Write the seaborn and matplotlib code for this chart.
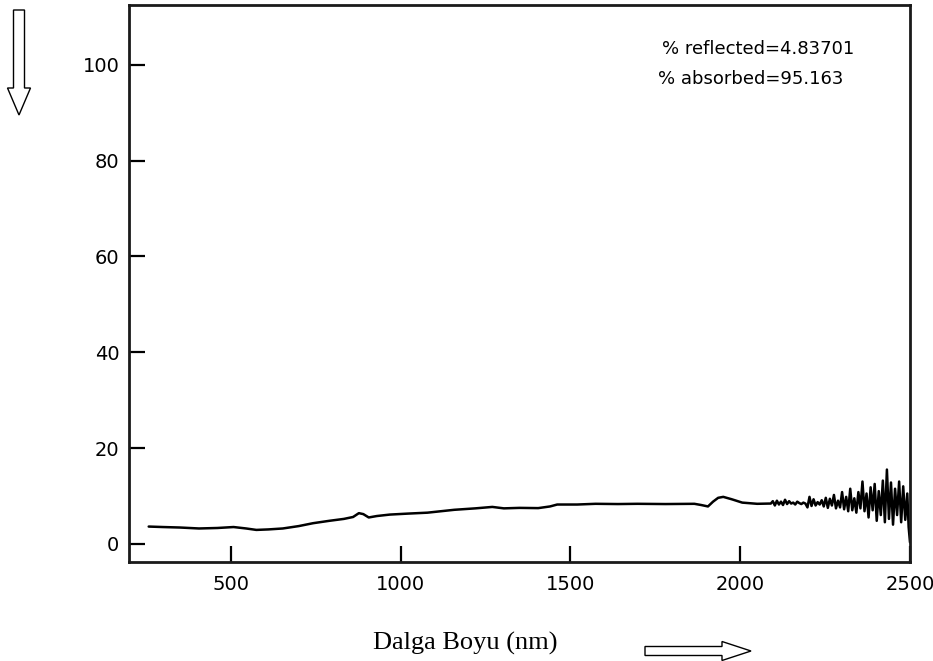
import matplotlib
matplotlib.use("Agg")
import matplotlib.pyplot as plt
import seaborn as sns
import pandas as pd
from matplotlib.patches import FancyArrow

# ---- data ----
wavelength_smooth = [258, 300, 350, 406, 460, 508, 545, 575, 610, 653, 700, 742, 790, 833,
                     860, 877, 890, 906, 930, 968, 1020, 1079, 1158, 1220, 1270, 1304, 1350,
                     1405, 1440, 1461, 1520, 1574, 1640, 1697, 1780, 1865, 1885, 1905, 1920,
                     1935, 1950, 1975, 2006, 2050, 2084]
reflect_smooth = [3.6, 3.5, 3.4, 3.2, 3.3, 3.5, 3.2, 2.9, 3.0, 3.2, 3.7, 4.3, 4.8, 5.2,
                  5.6, 6.4, 6.2, 5.5, 5.8, 6.1, 6.3, 6.5, 7.1, 7.4, 7.7, 7.4, 7.5,
                  7.45, 7.8, 8.2, 8.2, 8.35, 8.3, 8.35, 8.3, 8.35, 8.1, 7.8, 8.8,
                  9.6, 9.8, 9.3, 8.6, 8.35, 8.4]

wavelength_noisy = [2090, 2096, 2102, 2108, 2114, 2120, 2126, 2132, 2138, 2144, 2150, 2156,
                    2162, 2168, 2174, 2180, 2186, 2192, 2198, 2204, 2210, 2216, 2222, 2228,
                    2234, 2240, 2246, 2252, 2258, 2264, 2270, 2276, 2282, 2288, 2294, 2300,
                    2306, 2312, 2318, 2324, 2330, 2336, 2342, 2348, 2354, 2360, 2366, 2372,
                    2378, 2384, 2390, 2396, 2402, 2408, 2414, 2420, 2426, 2432, 2438, 2444,
                    2450, 2456, 2462, 2468, 2474, 2480, 2486, 2492, 2496, 2500]
reflect_noisy = [8.4, 8.9, 8.0, 9.0, 8.2, 8.8, 8.1, 9.2, 8.3, 8.9, 8.4, 8.6,
                 8.2, 8.8, 8.5, 8.3, 8.6, 8.4, 7.6, 9.8, 7.9, 9.3, 8.0, 8.7,
                 8.2, 9.1, 7.8, 9.6, 7.5, 9.4, 8.0, 10.2, 7.4, 9.0, 7.6, 10.8,
                 7.2, 9.8, 6.8, 11.5, 7.0, 9.5, 6.5, 10.8, 7.4, 13.0, 6.8, 10.5,
                 5.5, 11.8, 7.0, 12.5, 4.8, 11.0, 6.0, 13.2, 4.5, 15.5, 5.2, 12.8,
                 4.0, 11.5, 6.0, 13.0, 4.5, 12.0, 5.0, 10.5, 3.5, 0.3]

x_ticks = [500, 1000, 1500, 2000, 2500]
y_ticks = [0, 20, 40, 60, 80, 100]
annot_lines = ["% reflected=4.83701", "% absorbed=95.163"]
x_label = "Dalga Boyu (nm)"

df = pd.DataFrame({
    "wavelength": wavelength_smooth + wavelength_noisy,
    "reflectance": reflect_smooth + reflect_noisy,
})

sns.set_style("white")
plt.rcParams["font.family"] = ["DejaVu Sans"]

W, H = 933, 661
fig = plt.figure(figsize=(W / 100, H / 100), dpi=100)
ax = fig.add_axes([129 / W, 1 - 562 / H, (910 - 129) / W, (562 - 5) / H])

sns.lineplot(data=df, x="wavelength", y="reflectance", ax=ax, color="black",
             linewidth=1.8, sort=False, estimator=None)

ax.set_xlim(200, 2500)
ax.set_ylim(-3.8, 112.5)
ax.set_xticks(x_ticks)
ax.set_yticks(y_ticks)
ax.set_ylabel("")
ax.tick_params(direction="in", length=11.5, width=1.6, color="black",
               labelsize=14, labelcolor="black", bottom=True, left=True,
               top=False, right=False)
ax.tick_params(axis="y", pad=7)
ax.tick_params(axis="x", pad=9)
for s in ax.spines.values():
    s.set_visible(True)
    s.set_color("#1a1a1a")
    s.set_linewidth(2.0)

ax.set_xlabel(x_label, fontsize=19, family=["Liberation Serif"], color="black")
ax.xaxis.label.set_va("center")
ax.xaxis.set_label_coords((465 - 129) / (910 - 129), (562 - 643) / (562 - 5))

# annotation text
fig.text(662 / W, 1 - 49 / H, annot_lines[0], fontsize=13, va="center", ha="left",
         color="black")
fig.text(658 / W, 1 - 79 / H, annot_lines[1], fontsize=13, va="center", ha="left",
         color="black")

# hollow arrows
tr = fig.dpi_scale_trans
fig.add_artist(FancyArrow(0.19, (H - 10) / 100, 0, -1.05, width=0.11, head_width=0.23,
                          head_length=0.27, length_includes_head=True,
                          facecolor="white", edgecolor="black", linewidth=1.0,
                          transform=tr))
fig.add_artist(FancyArrow(6.45, (H - 651) / 100, 1.06, 0, width=0.09, head_width=0.19,
                          head_length=0.29, length_includes_head=True,
                          facecolor="white", edgecolor="black", linewidth=1.0,
                          transform=tr))

fig.savefig("out.png", dpi=100)
